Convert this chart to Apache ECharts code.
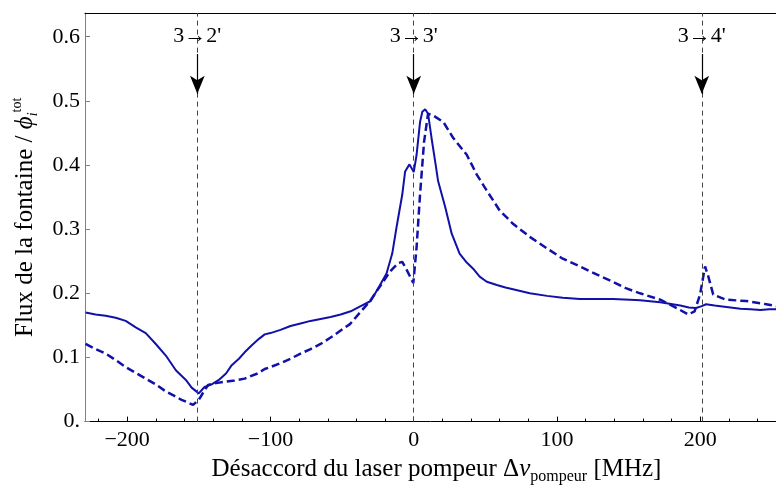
<!DOCTYPE html>
<html><head><meta charset="utf-8">
<script src="https://cdn.jsdelivr.net/npm/echarts@6/dist/echarts.min.js"></script>
<style>html,body{margin:0;padding:0;background:#fff}#c{width:776px;height:490px}</style>
</head><body><div id="c"></div>
<script>
// Solid curve: [detuning MHz, flux]
const solidPoints = [
[-229,0.170],[-222,0.167],[-215,0.165],[-208,0.162],[-201,0.157],[-194,0.147],[-187,0.138],[-180,0.121],
[-173,0.103],[-166,0.080],[-159,0.065],[-155,0.053],[-150,0.044],[-146,0.054],[-141,0.058],[-136,0.065],
[-131,0.075],[-127,0.088],[-122,0.098],[-118,0.108],[-113,0.119],[-108,0.129],[-104,0.136],[-100,0.138],
[-93,0.143],[-86,0.149],[-79,0.153],[-72,0.157],[-65,0.160],[-58,0.163],[-51,0.167],[-44,0.172],
[-37,0.180],[-30,0.188],[-24,0.211],[-19,0.231],[-15,0.262],[-12,0.303],[-8,0.354],[-6,0.390],
[-3,0.401],[0,0.389],[2,0.416],[4.4,0.467],[6,0.483],[8,0.487],[10,0.480],[12.5,0.441],
[15,0.405],[17,0.375],[22,0.334],[26.5,0.293],[32,0.262],[37,0.248],[42,0.237],[46,0.226],
[51,0.218],[58,0.213],[64,0.209],[70,0.206],[81,0.200],[93,0.196],[104,0.193],[116,0.191],
[128,0.191],[139,0.191],[151,0.190],[158,0.189],[172,0.186],[186,0.181],[192,0.178],[197,0.177],
[201,0.180],[204,0.183],[210,0.181],[214,0.180],[221,0.178],[228,0.176],[235,0.175],[242,0.174],
[248,0.175],[253,0.175]
];
// Dashed curve
const dashedPoints = [
[-229,0.121],[-222,0.113],[-215,0.106],[-208,0.096],[-201,0.085],[-194,0.076],[-187,0.067],[-180,0.058],
[-173,0.047],[-167,0.040],[-162,0.034],[-154,0.026],[-150,0.034],[-147,0.045],[-143.5,0.057],[-138,0.060],
[-132,0.062],[-125,0.064],[-118,0.067],[-109,0.075],[-104,0.082],[-100,0.085],[-93,0.091],[-86,0.098],
[-79,0.106],[-72,0.113],[-65,0.121],[-58,0.131],[-51,0.142],[-44.5,0.152],[-37.5,0.170],[-30.5,0.188],
[-23.5,0.211],[-16.5,0.234],[-11,0.247],[-8,0.249],[-5,0.237],[-0.3,0.216],[2,0.272],[4.4,0.354],
[7.2,0.436],[10,0.480],[13.7,0.477],[20.7,0.467],[27.6,0.442],[37,0.416],[44,0.385],[51,0.360],
[60,0.329],[69.5,0.308],[81,0.288],[93,0.270],[104,0.254],[116,0.242],[128,0.229],[139,0.218],
[148,0.208],[158,0.200],[172,0.190],[183.5,0.177],[191.6,0.167],[196,0.172],[199.8,0.198],[203.3,0.242],
[205.6,0.226],[209,0.198],[218,0.190],[232,0.188],[246,0.183],[253,0.180]
];
const transitionX = [-151, 0, 201];
const transitionLabels = ["3\u21922'", "3\u21923'", "3\u21924'"];
const xMajorTicks = [-200, -100, 0, 100, 200];
const xMinorTicks = [-220,-180,-160,-140,-120,-80,-60,-40,-20,20,40,60,80,120,140,160,180,220,240];
const yTicks = [0, 0.1, 0.2, 0.3, 0.4, 0.5, 0.6];

const XMIN = -229.4, XMAX = 252.8, YMIN = 0, YMAX = 0.637;
const F = 'Liberation Serif';
const BLUE = '#1111aa';

const chart = echarts.init(document.getElementById('c'), null, {renderer:'canvas'});
const baseX = {type:'value', min:XMIN, max:XMAX, splitLine:{show:false}};
chart.setOption({
  animation:false,
  backgroundColor:'#fff',
  grid:{left:85, right:0, top:13, bottom:63, containLabel:false},
  xAxis:[
    Object.assign({}, baseX, {
      position:'bottom',
      axisLine:{show:true, onZero:false, lineStyle:{color:'#000', width:1}},
      axisTick:{show:true, inside:true, length:5, customValues:xMajorTicks, lineStyle:{color:'#000'}},
      axisLabel:{show:true, customValues:xMajorTicks, margin:8, fontSize:22, fontFamily:F, color:'#000',
        formatter:v => v < 0 ? '\u2212' + Math.abs(v) : String(v)},
      name:'{n|D\u00e9saccord du laser pompeur \u0394}{i|\u03bd}{sb|pompeur}{n| [MHz]}',
      nameLocation:'middle', nameGap:29,
      nameTextStyle:{padding:[0,0,0,12], rich:{
        n:{fontSize:25, fontFamily:F, color:'#000', lineHeight:32},
        i:{fontSize:25, fontFamily:F, fontStyle:'italic', color:'#000', lineHeight:32},
        sb:{fontSize:16, fontFamily:F, color:'#000', lineHeight:16, verticalAlign:'bottom'}
      }}
    }),
    Object.assign({}, baseX, {
      position:'bottom',
      axisLine:{show:false, onZero:false},
      axisTick:{show:true, inside:true, length:3, customValues:xMinorTicks, lineStyle:{color:'#000'}},
      axisLabel:{show:false}
    }),
    Object.assign({}, baseX, {
      position:'top',
      axisLine:{show:true, onZero:false, lineStyle:{color:'#000', width:1}},
      axisTick:{show:false}, axisLabel:{show:false}
    })
  ],
  yAxis:[{
    type:'value', min:YMIN, max:YMAX, position:'left',
    splitLine:{show:false},
    axisLine:{show:true, onZero:false, lineStyle:{color:'#808080', width:1}},
    axisTick:{show:true, inside:true, length:5, customValues:yTicks, lineStyle:{color:'#808080'}},
    axisLabel:{show:true, customValues:yTicks, margin:5, fontSize:22, fontFamily:F, color:'#000',
      formatter:v => v === 0 ? '0.' : v.toFixed(1)},
    name:'{n|Flux de la fontaine / }{i|\u03d5}{sb|i}{sp|tot}',
    nameLocation:'middle', nameGap:45, nameRotate:90,
    nameTextStyle:{rich:{
      n:{fontSize:25, fontFamily:F, color:'#000', lineHeight:30},
      i:{fontSize:25, fontFamily:F, fontStyle:'italic', color:'#000', lineHeight:30},
      sb:{fontSize:14, fontFamily:F, fontStyle:'italic', color:'#000', lineHeight:14, verticalAlign:'bottom'},
      sp:{fontSize:14, fontFamily:F, color:'#000', lineHeight:14, verticalAlign:'top'}
    }}
  }],
  series:[
    {
      type:'line', name:'solid', data:solidPoints, xAxisIndex:0, yAxisIndex:0,
      showSymbol:false, clip:true, z:3,
      lineStyle:{color:BLUE, width:2},
      markLine:{
        silent:true, symbol:['none','none'], animation:false,
        label:{show:false},
        lineStyle:{color:'#444', width:1, type:[5,4]},
        data: transitionX.map(x => ({xAxis:x}))
      }
    },
    {
      type:'line', name:'dashed', data:dashedPoints, xAxisIndex:0, yAxisIndex:0,
      showSymbol:false, clip:true, z:3,
      lineStyle:{color:BLUE, width:2.5, type:[8,4]},
      markLine:{
        silent:true, symbol:['none','arrow'], symbolSize:[11,18], animation:false,
        label:{show:false},
        lineStyle:{color:'#000', width:1.2, type:'solid'},
        data: transitionX.map(x => [{coord:[x,0.573]},{coord:[x,0.511]}])
      }
    },
    {
      type:'scatter', name:'labels', xAxisIndex:0, yAxisIndex:0, symbolSize:1, z:10,
      itemStyle:{opacity:0},
      data: transitionX.map((x,i) => ({value:[x,0.601], name:transitionLabels[i]})),
      label:{show:true, position:'inside', formatter:'{b}', fontSize:22, fontFamily:F, color:'#000', opacity:1}
    }
  ]
});
</script></body></html>
